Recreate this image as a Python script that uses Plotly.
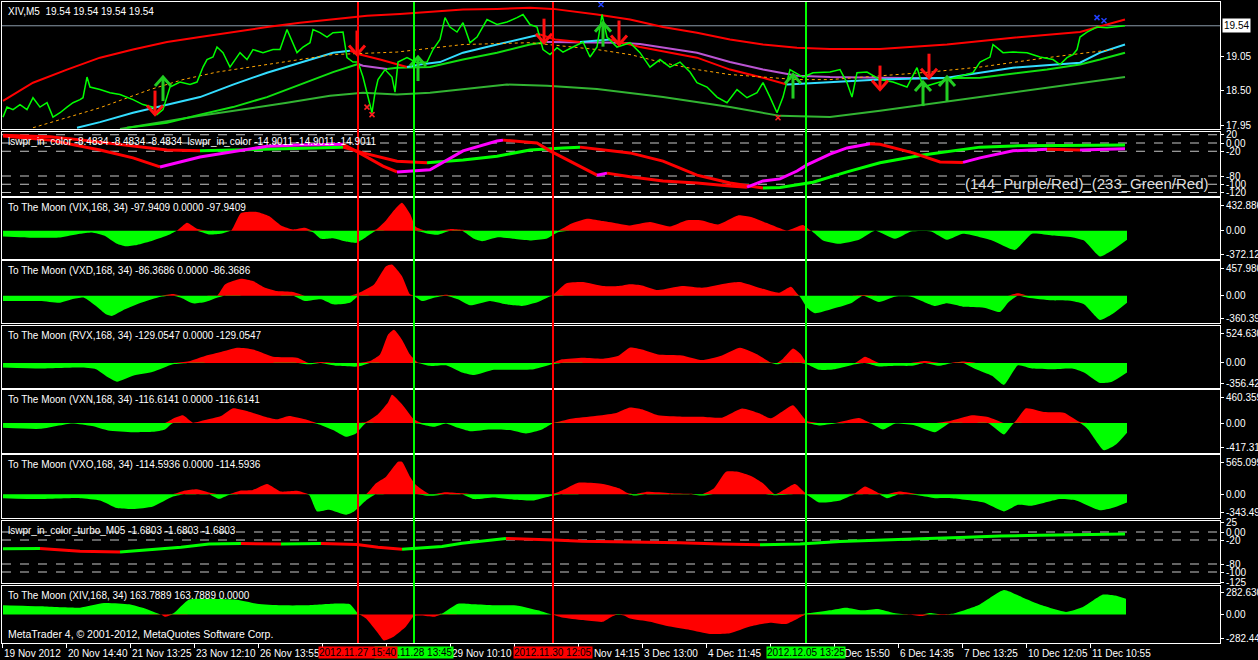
import plotly.graph_objects as go
from plotly.subplots import make_subplots

FONT = "Liberation Sans"

# ---------------- main panel (XIV, M5) ----------------
price_x = [3, 7, 13, 20, 27, 33, 40, 47, 53, 60, 67, 73, 80, 83, 87, 90, 100, 110, 120, 133,
           143, 153, 157, 163, 170, 180, 190, 197, 203, 207, 213, 217, 223, 230, 240, 247, 253, 263, 273, 280,
           287, 293, 297, 303, 310, 313, 320, 327, 333, 343, 347, 353, 358, 363, 367, 372, 375, 378, 385, 392,
           395, 398, 407, 417, 427, 433, 440, 445, 450, 457, 463, 470, 477, 487, 497, 507, 517, 523, 530, 537,
           543, 550, 557, 563, 573, 583, 590, 597, 602, 607, 617, 630, 640, 650, 660, 670, 680, 690, 697, 707,
           717, 727, 737, 747, 757, 763, 770, 777, 783, 790, 803, 813, 830, 840, 847, 852, 857, 867, 880, 893,
           907, 917, 923, 937, 947, 957, 973, 980, 990, 993, 1003, 1013, 1027, 1040, 1053, 1060, 1067, 1073, 1077, 1080,
           1087, 1097, 1107, 1113, 1125]
price = [18.08, 18.24, 18.20, 18.28, 18.20, 18.39, 18.24, 18.31, 18.08, 18.15, 18.24, 18.31, 18.36, 18.39, 18.72, 18.56, 18.52, 18.47, 18.44, 18.36,
         18.28, 18.24, 18.12, 18.20, 18.56, 18.64, 18.60, 18.64, 18.88, 19.00, 19.04, 19.20, 19.11, 18.88, 19.11, 19.00, 19.16, 19.11, 19.16, 19.16,
         19.48, 19.27, 19.11, 19.20, 19.27, 19.48, 19.43, 19.36, 19.43, 19.44, 19.03, 18.96, 18.96, 18.72, 18.47, 18.15, 18.47, 18.68, 18.84, 18.72,
         18.48, 18.96, 19.03, 18.95, 18.96, 19.16, 19.32, 19.67, 19.52, 19.44, 19.59, 19.27, 19.36, 19.64, 19.56, 19.60, 19.67, 19.72, 19.56, 19.52,
         19.16, 19.08, 19.19, 19.12, 19.20, 19.28, 19.04, 19.20, 19.72, 19.36, 19.20, 19.27, 19.11, 18.88, 19.00, 18.88, 18.96, 18.80, 18.63, 18.56,
         18.40, 18.31, 18.52, 18.39, 18.47, 18.63, 18.40, 18.15, 18.40, 18.84, 18.72, 18.79, 18.80, 18.84, 18.63, 18.40, 18.79, 18.80, 18.68, 18.64,
         18.56, 18.87, 18.56, 18.63, 18.68, 18.72, 18.79, 18.96, 19.04, 19.24, 19.11, 19.12, 19.11, 19.04, 19.00, 18.92, 19.03, 19.08, 19.16, 19.36,
         19.44, 19.52, 19.51, 19.52, 19.54]

band_x = [3, 33, 67, 100, 133, 167, 200, 233, 267, 300, 333, 367, 400, 430, 463, 497, 530, 553, 597, 630,
          663, 697, 730, 763, 797, 830, 880, 947, 1013, 1080, 1125]
band_upper = [18.34, 18.63, 18.84, 19.03, 19.16, 19.28, 19.36, 19.44, 19.52, 19.59, 19.65, 19.70, 19.73, 19.76, 19.80, 19.81, 19.83, 19.81, 19.72, 19.64,
              19.52, 19.43, 19.32, 19.24, 19.19, 19.17, 19.17, 19.24, 19.35, 19.44, 19.64]

fast_x = [77, 100, 133, 157, 200, 233, 267, 300, 333, 350, 360, 380, 407, 420, 440, 463, 497, 530, 540, 555,
          580, 610, 640, 697, 730, 763, 787, 800, 830, 880, 947, 1013, 1080, 1100, 1125]
fast_ma = [17.91, 18.00, 18.15, 18.24, 18.40, 18.60, 18.79, 18.95, 19.11, 19.14, 19.08, 19.00, 18.88, 18.92, 18.96, 19.11, 19.24, 19.36, 19.40, 19.32,
           19.28, 19.32, 19.20, 19.03, 18.84, 18.71, 18.60, 18.61, 18.64, 18.68, 18.71, 18.87, 18.95, 19.11, 19.24]

slow_x = [127, 167, 200, 233, 267, 300, 333, 358, 363, 387, 397, 430, 463, 497, 530, 547, 580, 620, 640, 697,
          730, 763, 797, 830, 880, 937, 980, 1047, 1080, 1100, 1125]
slow_ma = [17.91, 17.99, 18.12, 18.24, 18.40, 18.60, 18.80, 18.93, 18.90, 18.85, 18.87, 18.88, 19.00, 19.11, 19.24, 19.28, 19.275, 19.27, 19.25, 19.11,
           18.96, 18.84, 18.74, 18.72, 18.71, 18.70, 18.71, 18.84, 18.92, 19.00, 19.11]

long_x = [120, 200, 287, 330, 363, 397, 430, 463, 507, 547, 597, 663, 730, 780, 813, 830, 880, 980, 1080, 1125]
long_ma = [17.89, 18.10, 18.31, 18.42, 18.47, 18.44, 18.47, 18.53, 18.60, 18.58, 18.53, 18.40, 18.24, 18.10, 18.08, 18.08, 18.18, 18.40, 18.63, 18.72]

trend_x = [33, 67, 100, 150, 183, 217, 250, 300, 333, 397, 463, 530, 597, 630, 663, 697, 730, 797, 830, 930,
           980, 1047, 1113]
trend_line = [17.91, 18.07, 18.23, 18.52, 18.68, 18.80, 18.88, 19.00, 19.08, 19.12, 19.24, 19.27, 19.16, 19.08, 18.95, 18.84, 18.76, 18.68, 18.68, 18.80,
              18.88, 19.03, 19.16]

sell_x = [155, 357, 544, 619, 880, 929]
sell_price = [18.12, 19.08, 19.27, 19.24, 18.52, 18.71]
buy_x = [163, 418, 603, 793, 923, 947]
buy_price = [18.72, 19.04, 19.59, 18.76, 18.64, 18.72]
low_mark_x = [367, 372, 778]
low_mark_price = [18.24, 18.12, 18.07]
high_mark_x = [601, 1097, 1104]
high_mark_price = [19.88, 19.67, 19.62]

# ---------------- lswpr_in_color ----------------
wpr_fast_x = [3, 50, 100, 133, 160, 200, 267, 300, 343, 358, 383, 397, 430, 463, 497, 503, 530, 537, 550, 580,
              597, 607, 630, 663, 697, 730, 747, 763, 780, 797, 807, 830, 847, 870, 880, 913, 940, 963, 980, 1013,
              1047, 1080, 1125]
wpr_fast = [17, 7, -17, -36, -58, -34, -8, -5, -3, -22, -56, -70, -65, -19, 5, 7, 2, 0, -19, -56,
            -78, -73, -82, -92, -97, -104, -107, -92, -87, -68, -53, -27, -12, -2, -3, -24, -46, -47, -36, -19,
            -15, -17, -14]
wpr_slow_x = [3, 50, 83, 133, 167, 200, 267, 300, 343, 363, 397, 427, 463, 497, 530, 563, 580, 597, 630, 663,
              697, 730, 763, 780, 813, 847, 880, 923, 980, 1013, 1060, 1125]
wpr_slow = [19, 15, 7, -7, -17, -19, -15, -12, -10, -24, -44, -48, -41, -32, -17, -12, -10, -15, -24, -44,
            -78, -97, -109, -108, -95, -70, -48, -29, -10, -7, -6, -5]
wpr_levels = [20, 0, -20, -80, -100, -120]

# ---------------- To The Moon panels ----------------
vix_x = [3, 20, 40, 60, 80, 92, 104, 117, 125, 137, 153, 169, 177, 187, 197, 209, 221, 231, 241, 257,
         269, 281, 293, 305, 313, 321, 333, 346, 356, 366, 376, 386, 394, 402, 410, 416, 426, 438, 450, 462,
         474, 482, 498, 514, 530, 546, 558, 571, 587, 603, 619, 630, 650, 670, 686, 702, 718, 738, 751, 767,
         787, 803, 811, 823, 839, 859, 875, 895, 911, 931, 947, 963, 992, 1015, 1032, 1052, 1072, 1084, 1100, 1112,
         1127]
vix = [-75, -84, -93, -88, -40, -22, -62, -172, -203, -186, -128, -53, 4, 106, 27, -49, -40, 0, 234, 248,
       194, 71, 18, 40, -18, -106, -97, -141, -159, -84, 18, 137, 270, 371, 225, 49, -31, -53, 22, 13,
       -106, -137, -84, -106, -128, -106, -18, 93, 159, 128, 93, 70, 115, 57, 137, 137, 84, 203, 181, 102,
       4, 75, 0, -128, -172, -119, 0, -106, -9, -9, -119, -40, -128, -252, -40, -62, -84, -128, -340, -261,
       -119]

vxd_x = [3, 40, 60, 72, 84, 96, 106, 112, 125, 141, 161, 173, 181, 193, 205, 217, 225, 241, 253, 265,
         277, 293, 305, 321, 333, 350, 359, 374, 386, 392, 402, 410, 414, 422, 434, 446, 458, 470, 490, 506,
         522, 538, 552, 566, 583, 603, 619, 630, 642, 658, 682, 702, 726, 740, 759, 779, 791, 799, 807, 815,
         831, 851, 863, 879, 895, 911, 935, 947, 963, 984, 1000, 1008, 1018, 1028, 1052, 1072, 1084, 1100, 1112, 1127]
vxd = [-70, -70, -92, -48, -26, -136, -245, -267, -180, -92, -13, 22, -26, -101, -83, -26, 149, 223, 193, 105,
       61, 48, -70, -48, -114, -92, 39, 149, 390, 412, 258, 18, -4, -70, -26, 13, -48, -127, -70, -114,
       -136, -83, 4, 162, 180, 127, 127, 150, 136, 74, 127, 105, 162, 180, 105, 39, 118, 4, -158, -232,
       -180, -101, 9, -83, -13, -13, -136, -101, -145, -158, -215, -92, 31, -26, -61, -70, -114, -320, -245, -92]

rvx_x = [3, 40, 80, 96, 108, 117, 133, 153, 173, 189, 205, 221, 237, 253, 273, 297, 309, 321, 337, 358,
         370, 380, 388, 394, 402, 410, 418, 430, 446, 462, 474, 494, 514, 534, 552, 562, 583, 603, 619, 630,
         642, 658, 682, 702, 722, 740, 759, 771, 777, 783, 793, 801, 807, 819, 835, 855, 865, 879, 895, 911,
         925, 939, 951, 963, 976, 992, 1004, 1018, 1032, 1052, 1072, 1084, 1100, 1112, 1127]
rvx = [-65, -79, -65, -89, -205, -266, -182, -126, -19, 23, 98, 154, 214, 191, 89, 75, -19, 14, -42, -51,
       28, 121, 401, 471, 331, 121, 5, -42, -33, -135, -172, -98, -98, -89, -19, 51, 75, 61, 107, 219,
       191, 121, 107, 42, 107, 214, 107, 5, -19, 61, 205, 121, -19, -98, -89, -19, 89, -51, -42, -42,
       28, -42, -5, 19, -89, -182, -312, -33, -79, -89, -79, -135, -284, -266, -135]

vxn_x = [3, 40, 72, 92, 108, 133, 153, 165, 173, 183, 193, 205, 221, 233, 249, 265, 277, 289, 305, 317,
         333, 346, 356, 366, 378, 388, 392, 402, 414, 422, 434, 446, 458, 470, 490, 510, 526, 542, 554, 571,
         595, 615, 630, 642, 658, 682, 702, 722, 742, 759, 771, 783, 793, 807, 819, 835, 859, 871, 883, 895,
         915, 935, 950, 972, 988, 1004, 1014, 1026, 1044, 1064, 1080, 1088, 1104, 1116, 1127]
vxn = [-66, -80, -5, -42, -103, -127, -122, -89, 61, 108, 5, 42, 98, 206, 159, 89, 52, 98, 52, -9,
       -98, -192, -145, 14, 122, 286, 394, 263, 52, -19, -52, -5, -66, -113, -89, -98, -145, -89, 5, 61,
       98, 136, 218, 192, 108, 89, 89, 75, 202, 136, 66, 169, 249, 28, -33, -5, 70, -5, -89, -9,
       -33, -127, 28, 108, 84, -159, 5, 206, 155, 145, 14, -89, -380, -300, -136]

vxo_x = [3, 40, 80, 100, 117, 133, 153, 173, 185, 197, 209, 219, 229, 241, 253, 267, 281, 297, 309, 317,
         329, 346, 354, 366, 376, 386, 398, 402, 410, 416, 430, 446, 462, 474, 494, 514, 534, 552, 562, 579,
         603, 619, 627, 634, 646, 670, 690, 702, 714, 726, 738, 751, 763, 775, 795, 807, 819, 839, 855, 865,
         879, 887, 899, 919, 935, 951, 984, 1004, 1018, 1032, 1060, 1076, 1100, 1112, 1127]
vxo = [-57, -71, -57, -90, -200, -214, -176, -33, 52, 71, 24, -67, -10, 52, 62, 148, 38, 48, -10, -248,
       -224, -295, -248, -90, 157, 252, 466, 466, 252, 133, -24, 29, 14, -71, -48, -81, -90, -24, 52, 167,
       148, 86, 20, -19, 33, 14, 5, -19, 86, 324, 324, 262, 157, -14, 148, -10, -119, -95, 14, 109,
       14, -57, 38, -19, -57, -57, -119, -248, -152, -167, -71, -90, -233, -200, -119]

moon_names = ["VIX", "VXD", "RVX", "VXN", "VXO"]
moon_last = ["-97.9409", "-86.3686", "-129.0547", "-116.6141", "-114.5936"]
moon_max = [432.8867, 457.9804, 524.6302, 460.3596, 565.0993]
moon_min = [-372.1294, -360.3975, -356.4293, -417.3154, -343.4951]

# ---------------- lswpr_in_color_turbo_M05 ----------------
turbo_x = [3, 40, 64, 80, 120, 160, 181, 209, 241, 281, 321, 357, 378, 402, 422, 442, 462, 482, 506, 522,
           554, 582, 610, 640, 680, 720, 760, 800, 840, 880, 920, 960, 1000, 1040, 1080, 1125]
turbo = [-42, -41, -45, -48, -50, -42, -38, -30, -29, -30, -29, -31, -38, -43, -40, -36, -28, -22, -16, -17,
         -20, -23, -24, -25, -27, -30, -32, -30, -24, -20, -17, -14, -10, -8, -6, -5]
turbo_levels = [0, -20, -80, -100]

# ---------------- To The Moon (XIV) ----------------
xiv_x = [3, 40, 80, 104, 129, 145, 161, 165, 173, 189, 209, 237, 257, 281, 305, 333, 350, 359, 366, 378,
         384, 394, 406, 414, 422, 434, 442, 458, 474, 494, 518, 538, 552, 562, 583, 603, 612, 618, 624, 630,
         650, 670, 690, 710, 730, 750, 770, 786, 798, 806, 830, 846, 862, 878, 894, 910, 922, 930, 942, 954,
         978, 1004, 1022, 1042, 1066, 1083, 1103, 1115, 1126]
xiv = [91, 81, 68, 114, 101, 59, 0, -23, 10, 150, 156, 146, 107, 91, 91, 107, 101, 0, -39, -185,
       -257, -218, -120, -16, -10, -23, 10, 107, 101, 91, 88, 42, 0, -29, -55, -72, -20, 6, -10, -40,
       -72, -120, -153, -192, -185, -120, -81, -94, -39, 10, 42, 68, 42, 55, 16, -3, -16, 16, -6, 10,
       91, 244, 172, 91, 26, 75, 198, 189, 156]
xiv_max, xiv_min = 282.6306, -282.4420

# ---------------- events and time axis ----------------
event_x = [414, 358, 553, 806]
event_color = ["#00FF00", "#FF0000", "#FF0000", "#00FF00"]
event_label = ["2012.11.28 13:45", "2012.11.27 15:40", "2012.11.30 12:05", "2012.12.05 13:25"]

tick_x = [2, 66, 130, 194, 258, 322, 386, 450, 514, 578, 642, 706, 770, 834, 898, 962, 1026, 1090]
tick_label = ["19 Nov 2012", "20 Nov 14:40", "21 Nov 13:25", "23 Nov 12:10", "26 Nov 13:55", "27 Nov 12:40",
              "28 Nov 11:25", "29 Nov 10:10", "29 Nov 15:35", "30 Nov 14:15", "3 Dec 13:00", "4 Dec 11:45",
              "5 Dec 10:30", "5 Dec 15:50", "6 Dec 14:35", "7 Dec 13:25", "10 Dec 12:05", "11 Dec 10:55"]

# panel pixel rows (top, bottom) inside the 660px window
PANELS = [(2, 129), (132, 196), (198, 259), (261, 323), (326, 388), (390, 453), (455, 518), (521, 583), (586, 643)]
TOP, PLOT_H = 2, 641
X_RANGE = [2, 1220]
MAIN_RANGE = [17.89, 19.92]
PRICE_PER_PX = (MAIN_RANGE[1] - MAIN_RANGE[0]) / (PANELS[0][1] - PANELS[0][0])

fig = make_subplots(rows=9, cols=1, shared_xaxes=True, vertical_spacing=0)


def colored_line(row, xs, ys, up, down, width):
    # split into runs by direction so each run gets its own colour
    dirs = [ys[i + 1] >= ys[i] for i in range(len(ys) - 1)]
    i = 0
    while i < len(dirs):
        j = i
        while j + 1 < len(dirs) and dirs[j + 1] == dirs[i]:
            j += 1
        fig.add_trace(go.Scatter(x=xs[i:j + 2], y=ys[i:j + 2], mode="lines",
                                 line=dict(color=up if dirs[i] else down, width=width)), row=row, col=1)
        i = j + 1


def histogram(row, xs, vals, pos_color, neg_color):
    fig.add_trace(go.Scatter(x=xs, y=[max(v, 0) for v in vals], mode="lines", fill="tozeroy",
                             fillcolor=pos_color, line=dict(width=0, color=pos_color, shape="spline", smoothing=0.5)),
                  row=row, col=1)
    fig.add_trace(go.Scatter(x=xs, y=[min(v, 0) for v in vals], mode="lines", fill="tozeroy",
                             fillcolor=neg_color, line=dict(width=0, color=neg_color, shape="spline", smoothing=0.5)),
                  row=row, col=1)


def levels(row, values):
    for lvl in values:
        fig.add_trace(go.Scatter(x=X_RANGE, y=[lvl, lvl], mode="lines",
                                 line=dict(color="#C8C8C8", width=1, dash="dash")), row=row, col=1)


def arrows(xs, ps, direction, color):
    # MT4-style arrow: shaft plus open chevron head, tip at the signal price
    ax, ay = [], []
    s = PRICE_PER_PX * (1 if direction == "down" else -1)
    for x, p in zip(xs, ps):
        ax += [x, x, None, x - 8, x, x + 8, None]
        ay += [p + 24 * s, p, None, p + 9 * s, p, p + 9 * s, None]
    fig.add_trace(go.Scatter(x=ax, y=ay, mode="lines", line=dict(color=color, width=3)), row=1, col=1)


# main panel
fig.add_trace(go.Scatter(x=X_RANGE, y=[price[-1]] * 2, mode="lines",
                         line=dict(color="#8A9AAA", width=1)), row=1, col=1)
fig.add_trace(go.Scatter(x=band_x, y=band_upper, mode="lines", line=dict(color="#FF0000", width=2)), row=1, col=1)
fig.add_trace(go.Scatter(x=long_x, y=long_ma, mode="lines", line=dict(color="#32B432", width=2)), row=1, col=1)
colored_line(1, slow_x, slow_ma, "#10E010", "#BA55D3", 2)
colored_line(1, fast_x, fast_ma, "#33DDFF", "#FF0000", 2)
fig.add_trace(go.Scatter(x=trend_x, y=trend_line, mode="lines",
                         line=dict(color="#FFA500", width=1, dash="dot")), row=1, col=1)
fig.add_trace(go.Scatter(x=price_x, y=price, mode="lines", line=dict(color="#00FF00", width=1.5)), row=1, col=1)
fig.add_trace(go.Scatter(x=low_mark_x, y=low_mark_price, mode="markers",
                         marker=dict(symbol="x-thin", size=5, line=dict(color="#FF2020", width=1.5))), row=1, col=1)
fig.add_trace(go.Scatter(x=high_mark_x, y=high_mark_price, mode="markers",
                         marker=dict(symbol="x-thin", size=5, line=dict(color="#2040FF", width=1.5))), row=1, col=1)
arrows(sell_x, sell_price, "down", "#FF1010")
arrows(buy_x, buy_price, "up", "#22CC22")

# lswpr panel
levels(2, wpr_levels)
colored_line(2, wpr_slow_x, wpr_slow, "#00FF00", "#FF0000", 3)
colored_line(2, wpr_fast_x, wpr_fast, "#FF00FF", "#FF0000", 3)

# To The Moon panels
moon_series = [(vix_x, vix), (vxd_x, vxd), (rvx_x, rvx), (vxn_x, vxn), (vxo_x, vxo)]
for k, (xs, vals) in enumerate(moon_series):
    histogram(3 + k, xs, vals, "#FF0000", "#00FF00")

# turbo panel
levels(8, turbo_levels)
colored_line(8, turbo_x, turbo, "#00FF00", "#FF0000", 3)

# XIV panel
histogram(9, xiv_x, xiv, "#00FF00", "#FF0000")

# event lines
for ex, ec in zip(event_x, event_color):
    fig.add_shape(type="line", xref="x", yref="paper", x0=ex, x1=ex, y0=0, y1=1,
                  line=dict(color=ec, width=2))

# axes
axis_font = dict(family=FONT, size=10, color="white")
for i, (top, bottom) in enumerate(PANELS, start=1):
    fig.update_yaxes(row=i, col=1, domain=[1 - (bottom - TOP) / PLOT_H, 1 - (top - TOP) / PLOT_H],
                     side="right", showline=True, mirror=True, linecolor="white", linewidth=1,
                     showgrid=False, zeroline=False, ticks="outside", ticklen=3, tickcolor="white",
                     tickfont=axis_font, automargin=False)
    fig.update_xaxes(row=i, col=1, range=X_RANGE, showline=True, mirror=True, linecolor="white",
                     linewidth=1, showgrid=False, zeroline=False, showticklabels=False, ticks="",
                     automargin=False)

fig.update_yaxes(row=1, col=1, range=MAIN_RANGE, tickvals=[19.05, 18.50, 17.95],
                 ticktext=["19.05", "18.50", "17.95"])
fig.update_yaxes(row=2, col=1, range=[-128.5, 26.7], tickvals=wpr_levels,
                 ticktext=["20", "0.00", "-20", "-80", "-100", "-120"])
for k in range(5):
    mx, mn = moon_max[k], moon_min[k]
    span = mx - mn
    fig.update_yaxes(row=3 + k, col=1, range=[mn, mx], tickvals=[mx - 0.12 * span, 0, mn + 0.08 * span],
                     ticktext=[f"{mx:.4f}", "0.00", f"{mn:.4f}"])
fig.update_yaxes(row=8, col=1, range=[-127.5, 27.5], tickvals=[25, 0, -20, -80, -100, -125],
                 ticktext=["25", "0.00", "-20", "-80", "-100", "-125"])
span = xiv_max - xiv_min
fig.update_yaxes(row=9, col=1, range=[xiv_min, xiv_max],
                 tickvals=[xiv_max - 0.12 * span, 0, xiv_min + 0.08 * span],
                 ticktext=[f"{xiv_max:.4f}", "0.00", f"{xiv_min:.4f}"])
fig.update_xaxes(row=9, col=1, tickvals=tick_x, ticks="outside", ticklen=4, tickcolor="white")

# panel captions
captions = [
    "XIV,M5  19.54 19.54 19.54 19.54",
    "lswpr_in_color -8.4834 -8.4834 -8.4834  lswpr_in_color -14.9011 -14.9011 -14.9011",
] + [f"To The Moon ({n},168, 34) {v} 0.0000 {v}" for n, v in zip(moon_names, moon_last)] + [
    "lswpr_in_color_turbo_M05 -1.6803 -1.6803 -1.6803",
    "To The Moon (XIV,168, 34) 163.7889 163.7889 0.0000",
]
for i, cap in enumerate(captions, start=1):
    fig.add_annotation(xref="paper", x=0, xshift=4, xanchor="left",
                       yref=("y domain" if i == 1 else f"y{i} domain"), y=1, yanchor="top", yshift=-2,
                       text=cap, showarrow=False, font=axis_font)

fig.add_annotation(xref="paper", x=0.992, xanchor="right", yref="y2 domain", y=0.2, yanchor="middle",
                   text="(144_Purple/Red)_(233_Green/Red)", showarrow=False,
                   font=dict(family=FONT, size=15, color="#DDDDDD"))
fig.add_annotation(xref="paper", x=0, xshift=4, xanchor="left", yref="y9 domain", y=0.16, yanchor="middle",
                   text="MetaTrader 4, © 2001-2012, MetaQuotes Software Corp.", showarrow=False,
                   font=dict(family=FONT, size=10.5, color="white"))
fig.add_annotation(xref="paper", x=1, xshift=2, xanchor="left", yref="y", y=price[-1], yanchor="middle",
                   text=f"{price[-1]:.2f}", showarrow=False, bgcolor="white", borderpad=1,
                   font=dict(family=FONT, size=10, color="black"))

# time labels, then event date boxes on top
for tx, tl in zip(tick_x, tick_label):
    fig.add_annotation(xref="x", x=tx, xanchor="left", yref="paper", y=0, yanchor="top", yshift=-3,
                       text=tl, showarrow=False, font=axis_font)
for ex, ec, el in zip(event_x, event_color, event_label):
    fig.add_annotation(xref="x", x=ex, xanchor="center", yref="paper", y=0, yanchor="top", yshift=-3,
                       text=el, showarrow=False, bgcolor=ec, borderpad=0,
                       font=dict(family=FONT, size=10, color="black"))

fig.update_layout(width=1258, height=660, margin=dict(l=2, r=38, t=2, b=17),
                  paper_bgcolor="black", plot_bgcolor="black", showlegend=False, hovermode=False,
                  font=dict(family=FONT, color="white"))
fig.write_html("out.html", config={"displayModeBar": False},
               post_script="document.body.style.margin='0px';")
